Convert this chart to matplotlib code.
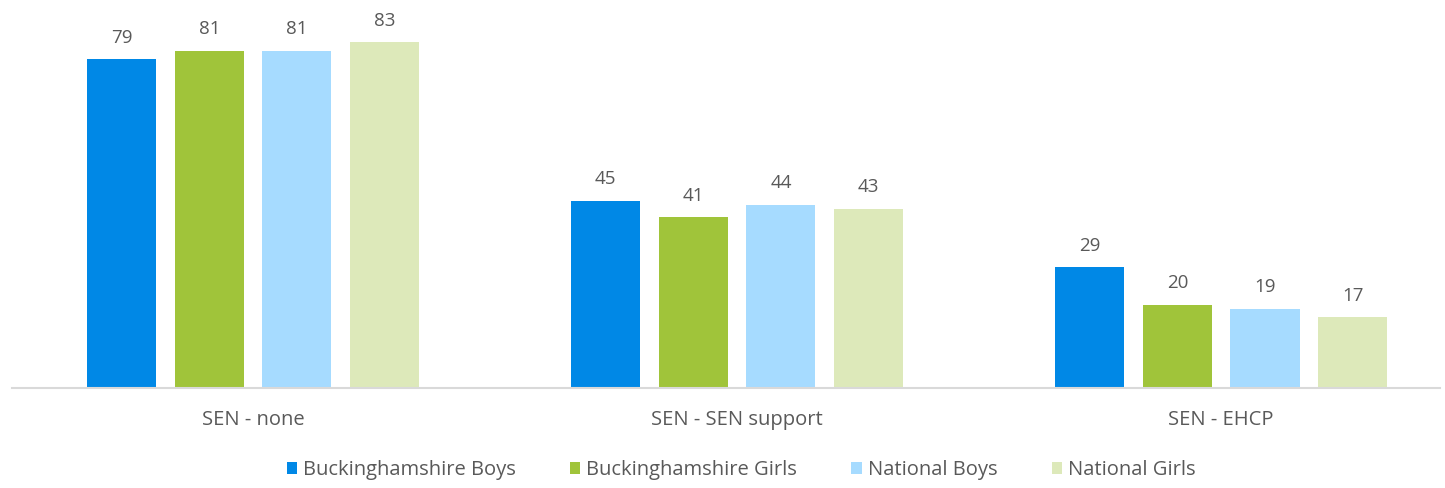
import matplotlib.pyplot as plt
import numpy as np

categories = ["SEN - none", "SEN - SEN support", "SEN - EHCP"]
series = ["Buckinghamshire Boys", "Buckinghamshire Girls", "National Boys", "National Girls"]
values = [
    [79, 45, 29],
    [81, 41, 20],
    [81, 44, 19],
    [83, 43, 17],
]
colors = ["#0088E6", "#A0C43A", "#A6DBFF", "#DDE9BA"]

plt.rcParams['font.family'] = ['Open Sans', 'DejaVu Sans']
text_color = "#595959"

fig = plt.figure(figsize=(14.45, 4.88), dpi=100)
ax = fig.add_axes([12 / 1445, 100 / 488, 1428 / 1445, 383 / 488])

x = np.arange(len(categories))
width = 0.1426
pitch = 0.181
for i, (name, vals) in enumerate(zip(series, values)):
    pos = x + (i - 1.5) * pitch
    bars = ax.bar(pos, vals, width, color=colors[i], label=name)
    for b, v in zip(bars, vals):
        ax.text(b.get_x() + b.get_width() / 2, v + 3, str(v), ha="center", va="bottom",
                fontsize=13.5, color=text_color)

ax.set_xlim(-0.498, 2.452)
ax.set_ylim(0, 92)
ax.set_xticks(x)
ax.set_xticklabels(categories, fontsize=14.5, color=text_color)
ax.tick_params(axis="x", length=0, pad=16)
ax.set_yticks([])
for s in ["top", "right", "left"]:
    ax.spines[s].set_visible(False)
ax.spines["bottom"].set_color("#D9D9D9")
ax.spines["bottom"].set_linewidth(1.5)

fig.legend(loc="center", bbox_to_anchor=(741 / 1445, 1 - 470 / 488), ncol=4, frameon=False,
           fontsize=14.5, handlelength=0.5, handleheight=0.5, handletextpad=0.3, columnspacing=2.7,
           labelcolor=text_color)

fig.savefig("out.png", dpi=100)
